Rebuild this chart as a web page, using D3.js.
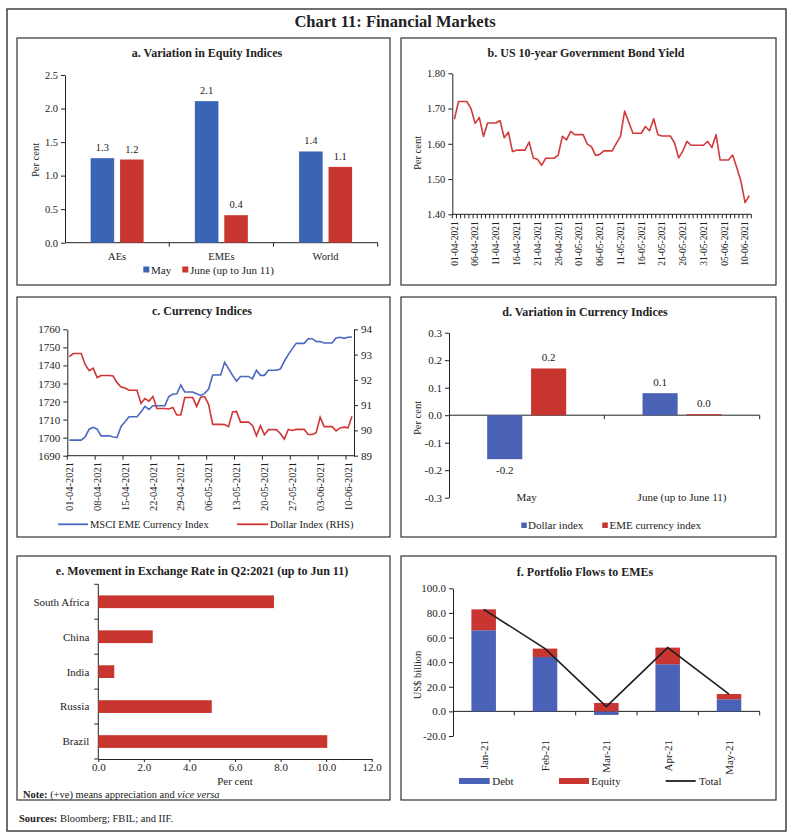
<!DOCTYPE html>
<html><head><meta charset="utf-8">
<script src="https://cdn.jsdelivr.net/npm/d3@7"></script>
<style>
body{margin:0;background:#fff;}
svg text{font-family:"Liberation Serif","Times New Roman",serif;fill:#222;}
</style></head><body>
<svg id="c" width="790" height="840"></svg>
<script>
// ---------- DATA ----------
const equityCats = ["AEs", "EMEs", "World"];
const equitySeries = ["May", "June (up to Jun 11)"];
const equityMay = [1.26, 2.11, 1.36];
const equityJune = [1.24, 0.41, 1.13];

const yieldStart = new Date(2021, 3, 1);
const yieldEnd = new Date(2021, 5, 12);
const yieldValues = [1.67,1.72,1.72,1.72,1.70,1.658,1.675,1.621,1.659,1.659,1.659,1.666,1.617,1.633,1.578,1.582,1.582,1.582,1.605,1.560,1.556,1.539,1.559,1.559,1.559,1.568,1.621,1.611,1.635,1.626,1.626,1.626,1.599,1.592,1.567,1.570,
1.580,1.580,1.580,1.601,1.621,1.693,1.661,1.630,1.630,1.630,1.649,1.637,1.671,1.626,1.622,1.622,1.622,1.603,1.560,1.579,1.607,1.596,1.596,1.596,1.596,1.607,1.589,1.626,1.554,1.554,1.554,1.568,1.533,1.494,1.433,1.453];
const yieldTicks = [1.40, 1.50, 1.60, 1.70, 1.80];

const msciValues = [1698.6,1698.6,1698.6,1698.6,1700.5,1704.7,1705.7,1704.7,1701.0,1701.0,1701.0,1700.4,1700.1,1706.2,1708.8,1711.6,1711.6,1711.6,1714.2,1717.3,1715.6,1717.7,1717.7,1717.7,1717.7,1722.8,1724.0,1724.3,1729.1,1725.3,1725.3,1725.3,1724.3,1723.4,1724.5,1726.9,
1734.7,1734.7,1734.7,1741.7,1738.2,1734.5,1731.3,1733.9,1733.9,1733.9,1732.5,1737.3,1734.5,1734.5,1737.3,1737.3,1737.3,1738.0,1742.3,1746.0,1749.3,1752.2,1752.2,1752.2,1754.8,1754.8,1753.3,1753.2,1752.4,1752.4,1752.4,1755.2,1755.6,1755.0,1755.6,1755.7];
const dollarValues = [92.92,93.04,93.04,93.04,92.60,92.36,92.46,92.09,92.17,92.17,92.17,92.15,91.89,91.72,91.68,91.59,91.59,91.59,91.07,91.26,91.16,91.34,90.87,90.87,90.87,90.85,90.91,90.61,90.61,91.30,91.30,91.30,90.95,91.31,91.34,91.02,
90.24,90.24,90.24,90.23,90.15,90.73,90.75,90.33,90.33,90.33,90.20,89.79,90.19,89.83,90.03,90.03,90.03,89.88,89.66,90.04,90.00,90.04,90.04,90.04,89.84,89.84,89.91,90.52,90.15,90.15,90.15,89.98,90.10,90.13,90.10,90.56];
const msciTicks = [1690,1700,1710,1720,1730,1740,1750,1760];
const dollarTicks = [89,90,91,92,93,94];

const currCats = ["May", "June (up to June 11)"];
const currSeries = ["Dollar index", "EME currency index"];
const dollarVar = [-0.16, 0.08];
const emeVar = [0.17, 0.004];
const currTicks = [-0.3,-0.2,-0.1,0,0.1,0.2,0.3];

const fxCountries = ["South Africa", "China", "India", "Russia", "Brazil"];
const fxValues = [7.71, 2.39, 0.70, 4.98, 10.05];
const fxTicks = [0,2,4,6,8,10,12];

const flowMonths = ["Jan-21", "Feb-21", "Mar-21", "Apr-21", "May-21"];
const flowDebt = [65.9, 44.2, -2.9, 38.3, 9.8];
const flowEquity = [17.0, 6.8, 6.8, 13.5, 4.3];
const flowTotal = [82.9, 51.0, 3.9, 51.8, 14.1];
const flowTicks = [-20,0,20,40,60,80,100];

// ---------- HELPERS ----------
const FONT = '"Liberation Serif","Times New Roman",serif';
const INK = "#222";
const svg = d3.select("#c");
svg.append("rect").attr("width",790).attr("height",840).attr("fill","#fff");
const f1 = v => (Math.abs(v) < 1e-9 ? 0 : v).toFixed(1);
const f2 = v => v.toFixed(2);

function styleAxis(g, fs) {
  g.attr("font-family", FONT).attr("font-size", fs);
  g.select(".domain").attr("stroke", INK).attr("stroke-width", 1);
  g.selectAll(".tick line").attr("stroke", INK);
  g.selectAll(".tick text").attr("fill", INK);
}
function text(x, y, s, opts = {}) {
  const t = svg.append("text").attr("x", x).attr("y", y).text(s)
    .attr("font-size", opts.size || 11)
    .attr("text-anchor", opts.anchor || "start");
  if (opts.weight) t.attr("font-weight", opts.weight);
  if (opts.rotate) t.attr("transform", `rotate(-90,${x},${y})`);
  return t;
}
function panel(x, y, w, h, title, tx, ty) {
  svg.append("rect").attr("x", x).attr("y", y).attr("width", w).attr("height", h)
    .attr("fill", "none").attr("stroke", "#333").attr("stroke-width", 1.2);
  text(tx, ty, title, {size: 12, weight: "bold", anchor: "middle"});
}
function hline(x1, x2, y, col = INK, w = 1) {
  svg.append("line").attr("x1", x1).attr("x2", x2).attr("y1", y).attr("y2", y)
    .attr("stroke", col).attr("stroke-width", w);
}
function vline(x, y1, y2, col = INK, w = 1) {
  svg.append("line").attr("x1", x).attr("x2", x).attr("y1", y1).attr("y2", y2)
    .attr("stroke", col).attr("stroke-width", w);
}

// outer frame and title
svg.append("rect").attr("x", 7).attr("y", 9).attr("width", 779).attr("height", 822)
  .attr("fill", "none").attr("stroke", "#333").attr("stroke-width", 1.4);
text(395, 27, "Chart 11: Financial Markets", {size: 16.5, weight: "bold", anchor: "middle"});

// ---------- PANEL A ----------
{
  panel(17, 38, 373, 247, "a. Variation in Equity Indices", 207, 57);
  const x0 = d3.scaleBand().domain(equityCats).range([65, 377.7]);
  const x1 = d3.scaleBand().domain(equitySeries).range([-26.5, 26.5]).paddingInner(0.2);
  const y = d3.scaleLinear().domain([0, 2.5]).range([242.7, 75]);
  const cols = ["#3a65b4", "#c8362f"];
  const ga = svg.append("g").attr("transform", "translate(65,0)")
    .call(d3.axisLeft(y).tickValues([0,0.5,1,1.5,2,2.5]).tickFormat(f1).tickSize(4).tickSizeOuter(0));
  styleAxis(ga, 10.5);
  hline(65, 377.7, y(0));
  equityCats.forEach(c => vline(x0(c) + x0.bandwidth(), y(0), y(0) + 4));
  const series = [equityMay, equityJune];
  equityCats.forEach((c, i) => {
    const cx = x0(c) + x0.bandwidth() / 2;
    equitySeries.forEach((s, j) => {
      const v = series[j][i];
      svg.append("rect").attr("x", cx + x1(s)).attr("width", x1.bandwidth())
        .attr("y", y(v)).attr("height", y(0) - y(v)).attr("fill", cols[j]);
      text(cx + x1(s) + x1.bandwidth() / 2, y(v) - 7, f1(v), {size: 10.5, anchor: "middle"});
    });
    text(cx, 259.5, c, {size: 10.5, anchor: "middle"});
  });
  text(35, 160, "Per cent", {size: 10.5, anchor: "middle", rotate: true}).attr("dy", "0.35em");
  // legend
  svg.append("rect").attr("x", 143.3).attr("y", 266.5).attr("width", 6).attr("height", 6).attr("fill", cols[0]);
  text(151, 273.5, equitySeries[0], {size: 11});
  svg.append("rect").attr("x", 182.3).attr("y", 266.5).attr("width", 6).attr("height", 6).attr("fill", cols[1]);
  text(190, 273.5, equitySeries[1], {size: 11});
}

// ---------- PANEL B ----------
{
  panel(401, 38, 375, 247, "b. US 10-year Government Bond Yield", 586, 57);
  const fmtD = d3.timeFormat("%d-%m-%Y");
  const dates = d3.timeDay.range(yieldStart, yieldEnd).map(fmtD);
  const x = d3.scaleBand().domain(dates).range([452.3, 751.3]);
  const y = d3.scaleLinear().domain([1.4, 1.8]).range([214.3, 73.3]);
  const ga = svg.append("g").attr("transform", "translate(452.3,0)")
    .call(d3.axisLeft(y).tickValues(yieldTicks).tickFormat(f2).tickSize(4).tickSizeOuter(0));
  styleAxis(ga, 10.5);
  hline(452.3, 751.3, y(1.4));
  for (let k = 0; k <= dates.length; k++) vline(452.3 + k * x.step(), y(1.4), y(1.4) + 4);
  dates.forEach((d, i) => {
    if (i % 5 === 0) {
      const cx = x(d) + x.bandwidth() / 2;
      svg.append("text").attr("transform", `translate(${cx},${y(1.4) + 7}) rotate(-90)`)
        .attr("text-anchor", "end").attr("dy", "0.35em").attr("font-size", 9.5).text(d);
    }
  });
  const line = d3.line().x((v, i) => x(dates[i]) + x.bandwidth() / 2).y(v => y(v));
  svg.append("path").datum(yieldValues).attr("d", line).attr("fill", "none")
    .attr("stroke", "#d2393b").attr("stroke-width", 1.6).attr("stroke-linejoin", "round");
  text(417, 153, "Per cent", {size: 10.5, anchor: "middle", rotate: true}).attr("dy", "0.35em");
}

// ---------- PANEL C ----------
{
  panel(17, 297, 373, 240, "c. Currency Indices", 202, 315);
  const fmtD = d3.timeFormat("%d-%m-%Y");
  const dates = d3.timeDay.range(yieldStart, yieldEnd).map(fmtD);
  const x = d3.scaleBand().domain(dates).range([67.3, 354]);
  const yL = d3.scaleLinear().domain([1690, 1760]).range([455.7, 329.3]);
  const yR = d3.scaleLinear().domain([89, 94]).range([455.7, 329.3]);
  const gl = svg.append("g").attr("transform", "translate(67.3,0)")
    .call(d3.axisLeft(yL).tickValues(msciTicks).tickFormat(d3.format("d")).tickSize(4).tickSizeOuter(0));
  styleAxis(gl, 11);
  const gr = svg.append("g").attr("transform", "translate(354,0)")
    .call(d3.axisRight(yR).tickValues(dollarTicks).tickFormat(d3.format("d")).tickSize(4).tickSizeOuter(0));
  styleAxis(gr, 11);
  hline(67.3, 354, 455.7);
  for (let k = 0; k <= dates.length; k += 7) vline(67.3 + k * x.step(), 455.7, 459.7);
  dates.forEach((d, i) => {
    if (i % 7 === 0) {
      const cx = x(d) + x.bandwidth() / 2;
      svg.append("text").attr("transform", `translate(${cx},${462}) rotate(-90)`)
        .attr("text-anchor", "end").attr("dy", "0.35em").attr("font-size", 10.5).text(d);
    }
  });
  const cx = i => x(dates[i]) + x.bandwidth() / 2;
  svg.append("path").datum(msciValues).attr("d", d3.line().x((v, i) => cx(i)).y(v => yL(v)))
    .attr("fill", "none").attr("stroke", "#4a68c0").attr("stroke-width", 1.6);
  svg.append("path").datum(dollarValues).attr("d", d3.line().x((v, i) => cx(i)).y(v => yR(v)))
    .attr("fill", "none").attr("stroke", "#d03535").attr("stroke-width", 1.6);
  hline(58, 88, 524.3, "#4a68c0", 1.8);
  text(90, 528, "MSCI EME Currency Index", {size: 10.5});
  hline(237, 268, 524.3, "#d03535", 1.8);
  text(270, 528, "Dollar Index (RHS)", {size: 10.5});
}

// ---------- PANEL D ----------
{
  panel(401, 297, 375, 240, "d. Variation in Currency Indices", 585, 316);
  const x0 = d3.scaleBand().domain(currCats).range([449, 759.7]);
  const x1 = d3.scaleBand().domain(currSeries).range([-39.5, 39.5]).paddingInner(0.2);
  const y = d3.scaleLinear().domain([-0.3, 0.3]).range([497.7, 332.7]);
  const cols = ["#4a62b5", "#c8352f"];
  const ga = svg.append("g").attr("transform", "translate(449,0)")
    .call(d3.axisLeft(y).tickValues(currTicks).tickFormat(f1).tickSize(4).tickSizeOuter(0));
  styleAxis(ga, 11);
  hline(449, 759.7, y(0));
  currCats.forEach(c => vline(x0(c) + x0.bandwidth(), y(0), y(0) + 4));
  const series = [dollarVar, emeVar];
  currCats.forEach((c, i) => {
    const cxx = x0(c) + x0.bandwidth() / 2;
    currSeries.forEach((s, j) => {
      const v = series[j][i];
      svg.append("rect").attr("x", cxx + x1(s)).attr("width", x1.bandwidth())
        .attr("y", Math.min(y(v), y(0))).attr("height", Math.abs(y(0) - y(v))).attr("fill", cols[j]);
      const ly = v >= 0 ? y(v) - 7 : y(v) + 15;
      text(cxx + x1(s) + x1.bandwidth() / 2, ly, f1(v), {size: 11, anchor: "middle"});
    });
    text(cxx, 501, c, {size: 11, anchor: "middle"});
  });
  text(417, 418, "Per cent", {size: 10.5, anchor: "middle", rotate: true}).attr("dy", "0.35em");
  svg.append("rect").attr("x", 521.3).attr("y", 522.5).attr("width", 5.5).attr("height", 5.5).attr("fill", cols[0]);
  text(528, 529, currSeries[0], {size: 11});
  svg.append("rect").attr("x", 602.3).attr("y", 522.5).attr("width", 5.5).attr("height", 5.5).attr("fill", cols[1]);
  text(609.5, 529, currSeries[1], {size: 11});
}

// ---------- PANEL E ----------
{
  panel(17, 556, 373, 244, "e. Movement in Exchange Rate in Q2:2021 (up to Jun 11)", 202, 575);
  const y = d3.scaleBand().domain(fxCountries).range([584.3, 759]).paddingInner(0.636).paddingOuter(0.318);
  const x = d3.scaleLinear().domain([0, 12]).range([98.3, 371.7]);
  const gx = svg.append("g").attr("transform", "translate(0,759)")
    .call(d3.axisBottom(x).tickValues(fxTicks).tickFormat(f1).tickSize(3).tickPadding(1.5).tickSizeOuter(0));
  styleAxis(gx, 11);
  vline(98.3, 584.3, 759);
  for (let k = 0; k <= fxCountries.length; k++) hline(94.3, 98.3, 584.3 + k * y.step());
  fxCountries.forEach((c, i) => {
    svg.append("rect").attr("x", x(0)).attr("y", y(c)).attr("height", y.bandwidth())
      .attr("width", x(fxValues[i]) - x(0)).attr("fill", "#c8352f");
    text(89.3, y(c) + y.bandwidth() / 2, c, {size: 11, anchor: "end"}).attr("dy", "0.35em");
  });
  text(235, 784.5, "Per cent", {size: 11, anchor: "middle"});
  const note = svg.append("text").attr("x", 23).attr("y", 797.5).attr("font-size", 10.5);
  note.append("tspan").attr("font-weight", "bold").text("Note:");
  note.append("tspan").text(" (+ve) means appreciation and ");
  note.append("tspan").attr("font-style", "italic").text("vice versa");
}

// ---------- PANEL F ----------
{
  panel(401, 556, 375, 244, "f. Portfolio Flows to EMEs", 585, 576);
  const x = d3.scaleBand().domain(flowMonths).range([453, 759.7]).paddingInner(0.6).paddingOuter(0.3);
  const y = d3.scaleLinear().domain([-20, 100]).range([736, 588.3]);
  const ga = svg.append("g").attr("transform", "translate(453,0)")
    .call(d3.axisLeft(y).tickValues(flowTicks).tickFormat(f1).tickSize(4).tickSizeOuter(0));
  styleAxis(ga, 11);
  hline(453, 759.7, y(0));
  for (let k = 1; k <= flowMonths.length; k++) vline(453 + k * x.step(), y(0), y(0) + 4);
  const rows = flowMonths.map((m, i) => ({month: m, debt: flowDebt[i], equity: flowEquity[i]}));
  const stack = d3.stack().keys(["debt", "equity"]).offset(d3.stackOffsetDiverging)(rows);
  const cols = {debt: "#4a62b8", equity: "#c93530"};
  stack.forEach(layer => {
    layer.forEach(seg => {
      svg.append("rect").attr("x", x(seg.data.month)).attr("width", x.bandwidth())
        .attr("y", y(Math.max(seg[0], seg[1]))).attr("height", Math.abs(y(seg[0]) - y(seg[1])))
        .attr("fill", cols[layer.key]);
    });
  });
  svg.append("path").datum(flowTotal)
    .attr("d", d3.line().x((v, i) => x(flowMonths[i]) + x.bandwidth() / 2).y(v => y(v)))
    .attr("fill", "none").attr("stroke", "#1e1e1e").attr("stroke-width", 1.6);
  flowMonths.forEach(m => {
    svg.append("text").attr("transform", `translate(${x(m) + x.bandwidth() / 2},740) rotate(-90)`)
      .attr("text-anchor", "end").attr("dy", "0.35em").attr("font-size", 11).text(m);
  });
  text(417, 675, "US$ billion", {size: 10.5, anchor: "middle", rotate: true}).attr("dy", "0.35em");
  svg.append("rect").attr("x", 459).attr("y", 778).attr("width", 30.7).attr("height", 6).attr("fill", cols.debt);
  text(492.3, 784.5, "Debt", {size: 11});
  svg.append("rect").attr("x", 559).attr("y", 778).attr("width", 30).attr("height", 6).attr("fill", cols.equity);
  text(591.3, 784.5, "Equity", {size: 11});
  hline(665.7, 695.7, 781, "#1e1e1e", 1.8);
  text(699, 784.5, "Total", {size: 11});
}

// ---------- SOURCES ----------
{
  const s = svg.append("text").attr("x", 19).attr("y", 821.5).attr("font-size", 10.5);
  s.append("tspan").attr("font-weight", "bold").text("Sources:");
  s.append("tspan").text(" Bloomberg; FBIL; and IIF.");
}
</script>
</body></html>
